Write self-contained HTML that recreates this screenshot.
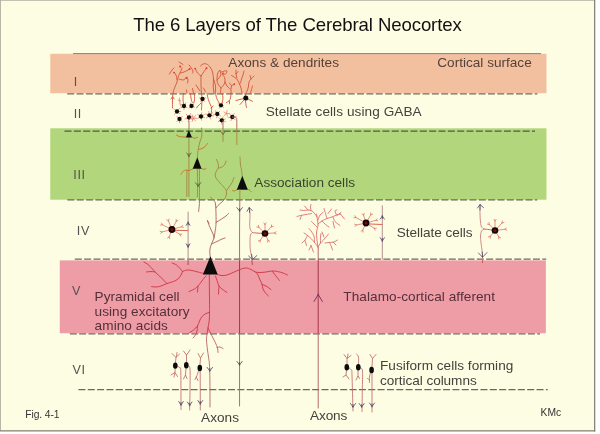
<!DOCTYPE html>
<html>
<head>
<meta charset="utf-8">
<title>The 6 Layers of The Cerebral Neocortex</title>
<style>
html,body{margin:0;padding:0;background:#ffffff;}
body{width:600px;height:434px;overflow:hidden;font-family:"Liberation Sans",sans-serif;}
svg{display:block;}
text{font-family:"Liberation Sans",sans-serif;}
.t13{font-size:13.6px;fill:#45423d;}
.rn{font-size:12.6px;fill:#55534f;letter-spacing:0.6px;}
.sm{font-size:10.3px;fill:#333333;}
.dash{stroke:#686a5d;stroke-width:1.3;stroke-dasharray:7 2.35;fill:none;}
svg{--ax:#b06462;--ax2:#b88e8e;--ax3:#cc8080;--dn:#d8503f;--pk:#e8776c;--th:#d9686a;--dv:#b8585a;--fu:#c06a6a;--ar:#4b4266;--ar2:#6a2f5e;}
.onpeach{--ax:#b0503c;--dn:#d2533a;--pk:#dc6a50;--ar:#6a4a7c;}
.ongreen{--ax:#a48a44;--ax2:#a48a44;--dn:#c8702c;--pk:#c8702c;--ar:#56603e;--th:#a48a44;}
.onpink{--ax3:#b83a4a;--ax:#a23346;--ax2:#a84a5a;--dn:#cf2f40;--dv:#cf2f40;--ar:#6a2f5e;--th:#c03045;}
.ax{stroke:var(--ax,#b06462);stroke-width:0.95;fill:none;stroke-linecap:round;stroke-linejoin:round;}
.ax2{stroke:var(--ax2,#b88e8e);stroke-width:1;fill:none;stroke-linecap:round;}
.ry{stroke:#e0776c;stroke-width:0.8;fill:none;stroke-linecap:round;}
.ax3{stroke:var(--ax3,#cc8080);stroke-width:0.9;fill:none;stroke-linecap:round;stroke-linejoin:round;}
.dn{stroke:var(--dn,#d8503f);stroke-width:0.9;fill:none;stroke-linecap:round;stroke-linejoin:round;}
.pk{stroke:var(--pk,#e8776c);stroke-width:0.75;fill:none;stroke-linecap:round;}
.th{stroke:var(--th,#d9686a);stroke-width:0.85;fill:none;stroke-linecap:round;stroke-linejoin:round;}
.dv{stroke:var(--dv,#b8585a);stroke-width:0.85;fill:none;stroke-linecap:round;stroke-linejoin:round;}
.fu{stroke:var(--fu,#c06a6a);stroke-width:0.85;fill:none;stroke-linecap:round;stroke-linejoin:round;}
.ar{stroke:var(--ar,#4b4266);stroke-width:0.8;fill:none;stroke-linecap:round;stroke-linejoin:round;}
.ar2{stroke:var(--ar2,#6a2f5e);stroke-width:0.9;fill:none;stroke-linecap:round;stroke-linejoin:round;}
.blk{fill:#0c0c0c;stroke:none;}
</style>
</head>
<body>
<svg width="600" height="434" viewBox="0 0 600 434">
<!-- page + frame -->
<rect x="0" y="0" width="600" height="434" fill="#ffffff"/>
<rect x="0" y="0" width="595" height="431" fill="#fdfde4"/>
<rect x="0" y="0" width="595" height="0.8" fill="#b4b4a6"/>
<rect x="0" y="0" width="0.9" height="431" fill="#b0b0a2"/>
<rect x="594" y="0" width="1.3" height="431.5" fill="#84847a"/>
<rect x="0" y="430.2" width="595.3" height="1.3" fill="#84847a"/>

<defs>
<clipPath id="cO"><rect x="50.4" y="53.8" width="496" height="39.4"/></clipPath>
<clipPath id="cG"><rect x="50.4" y="128.4" width="496" height="71.2"/></clipPath>
<clipPath id="cP"><rect x="59.8" y="260.5" width="485.9" height="72.7"/></clipPath>
<g id="neurons">
<!-- ===== layer I dendritic tufts ===== -->
<path class="dn" d="M172.5 108 C172.50 106.67 172.42 102.50 172.5 100 C172.58 97.50 172.67 95.00 173 93 C173.33 91.00 173.83 89.83 174.5 88 C175.17 86.17 176.33 84.00 177 82 C177.67 80.00 178.00 77.50 178.5 76 C179.00 74.50 179.42 74.33 180 73 C180.58 71.67 181.67 68.83 182 68"/>
<path class="dn" d="M177 80 C176.83 79.17 176.50 76.28 176 75 C175.50 73.72 174.33 72.75 174 72.3"/>
<path class="dn" d="M169.5 74 C169.92 73.33 171.25 71.00 172 70 C172.75 69.00 173.67 68.33 174 68"/>
<path class="dn" d="M180 73 C180.67 72.83 182.67 72.50 184 72 C185.33 71.50 187.05 70.53 188 70 C188.95 69.47 189.42 69.00 189.7 68.8"/>
<path class="dn" d="M179 79 C179.67 79.17 181.83 80.13 183 80 C184.17 79.87 185.50 78.50 186 78.2"/>
<path class="dn" d="M187 77 C187.17 77.50 187.92 79.00 188 80 C188.08 81.00 187.58 82.50 187.5 83"/>
<path class="dn" d="M179 62 L183 64.5"/>
<path class="dn" d="M189 65 C189.33 65.42 190.33 66.50 191 67.5 C191.67 68.50 192.75 70.08 193 71 C193.25 71.92 192.58 72.67 192.5 73"/>
<circle cx="180.2" cy="66.6" r="1.1" fill="#e8412f"/>
<circle cx="189.6" cy="69" r="1.0" fill="#d9402f"/>
<circle cx="186.3" cy="78" r="0.9" fill="#d9402f"/>
<circle cx="174" cy="72.6" r="0.9" fill="#d9402f"/>
<path class="dn" d="M202 99 C201.92 98.00 201.67 95.33 201.5 93 C201.33 90.67 201.08 87.83 201 85 C200.92 82.17 201.00 77.50 201 76"/>
<path class="dn" d="M201 76 C200.42 75.50 198.33 74.00 197.5 73 C196.67 72.00 196.42 70.78 196 70 C195.58 69.22 195.17 68.58 195 68.3"/>
<path class="dn" d="M201 76 C201.33 75.50 202.25 74.08 203 73 C203.75 71.92 204.92 70.33 205.5 69.5 C206.08 68.67 206.33 68.25 206.5 68"/>
<circle cx="206.5" cy="68.3" r="1.0" fill="#d9402f"/>
<circle cx="195.2" cy="68.6" r="0.9" fill="#d9402f"/>
<path class="dn" d="M200.5 66 C200.92 65.67 202.00 64.33 203 64 C204.00 63.67 205.33 63.50 206.5 64 C207.67 64.50 209.00 65.67 210 67 C211.00 68.33 211.92 70.00 212.5 72 C213.08 74.00 213.38 76.67 213.5 79 C213.62 81.33 213.12 83.67 213.2 86 C213.28 88.33 213.87 91.83 214 93"/>
<path class="dn" d="M213.5 79 C213.83 80.17 215.22 83.67 215.5 86 C215.78 88.33 215.25 91.83 215.2 93"/>
<path class="dn" d="M196 85 L200 91"/>
<path class="dn" d="M203.5 88 L205.5 92"/>
<path class="dn" d="M192.5 88.5 L193.5 93"/>
<path class="dn" d="M186.5 90 L187 93"/>
<path class="dn" d="M220.5 93 C220.58 92.17 220.58 89.17 221 88 C221.42 86.83 222.33 87.00 223 86 C223.67 85.00 224.75 83.42 225 82 C225.25 80.58 224.92 78.75 224.5 77.5 C224.08 76.25 222.33 75.08 222.5 74.5 C222.67 73.92 224.75 74.58 225.5 74 C226.25 73.42 227.17 71.50 227 71 C226.83 70.50 225.33 70.83 224.5 71 C223.67 71.17 222.83 72.08 222 72 C221.17 71.92 220.25 70.17 219.5 70.5 C218.75 70.83 217.92 72.42 217.5 74 C217.08 75.58 216.92 78.33 217 80 C217.08 81.67 217.33 82.67 218 84 C218.67 85.33 220.50 87.33 221 88"/>
<path class="dn" d="M219.5 70.5 C219.75 71.08 221.08 72.75 221 74 C220.92 75.25 219.67 77.00 219 78 C218.33 79.00 217.33 79.67 217 80"/>
<circle cx="223" cy="73.3" r="0.9" fill="#d9402f"/>
<path class="dn" d="M225 82 C225.33 82.67 226.25 84.92 227 86 C227.75 87.08 228.83 87.83 229.5 88.5 C230.17 89.17 230.75 89.17 231 90 C231.25 90.83 231.00 92.92 231 93.5"/>
<path class="dn" d="M229.5 83 C229.83 83.42 230.70 85.30 231.5 85.5 C232.30 85.70 233.83 84.42 234.3 84.2"/>
<path class="dn" d="M231.5 85.5 L231 89"/>
<circle cx="234.3" cy="84.2" r="0.9" fill="#d9402f"/>
<path class="dn" d="M231.5 75.5 C232.08 75.83 234.00 76.75 235 77.5 C236.00 78.25 236.75 78.92 237.5 80 C238.25 81.08 238.92 82.67 239.5 84 C240.08 85.33 240.58 86.50 241 88 C241.42 89.50 241.83 92.17 242 93"/>
<path class="dn" d="M236 70 C236.00 70.67 235.83 72.67 236 74 C236.17 75.33 236.83 77.33 237 78"/>
<path class="dn" d="M236 74 L238 71.5"/>
<path class="dn" d="M244 71 C243.83 71.67 243.42 73.67 243 75 C242.58 76.33 241.92 77.67 241.5 79 C241.08 80.33 240.83 82.17 240.5 83 C240.17 83.83 239.67 83.83 239.5 84"/>
<path class="dn" d="M254 76 C253.50 76.50 251.83 78.00 251 79 C250.17 80.00 249.42 80.83 249 82 C248.58 83.17 248.75 84.67 248.5 86 C248.25 87.33 248.00 88.67 247.5 90 C247.00 91.33 245.83 93.33 245.5 94"/>
<path class="dn" d="M250 75.5 L251 79"/>
<path class="dn" d="M252.5 86 C252.25 86.83 251.33 89.75 251 91 C250.67 92.25 250.58 93.08 250.5 93.5"/>
<!-- ===== layer II small stellate cells ===== -->
<path class="dn" d="M171 99 L172.6 96.6 L174.2 99"/>
<path class="dn" d="M183.5 93.5 C183.42 94.25 183.00 96.25 183 98 C183.00 99.75 183.42 103.00 183.5 104"/>
<path class="dn" d="M190.5 93.5 C190.58 94.25 190.75 96.58 191 98 C191.25 99.42 191.58 101.17 192 102 C192.42 102.83 193.08 103.33 193.5 103 C193.92 102.67 194.33 101.58 194.5 100 C194.67 98.42 194.50 94.58 194.5 93.5"/>
<path class="dn" d="M202 101 C201.95 101.67 201.78 103.50 201.7 105 C201.62 106.50 201.53 109.17 201.5 110"/>
<path class="dn" d="M201 103 C200.50 103.50 198.75 105.17 198 106 C197.25 106.83 196.75 107.67 196.5 108"/>
<path class="dn" d="M207 93.5 C207.22 94.50 207.72 97.58 208.3 99.5 C208.88 101.42 209.97 103.58 210.5 105 C211.03 106.42 211.33 106.67 211.5 108 C211.67 109.33 211.50 112.17 211.5 113"/>
<path class="dn" d="M213 106 L211.2 108"/>
<path class="dn" d="M215.5 93.5 C215.75 94.42 216.25 97.25 217 99 C217.75 100.75 219.50 103.17 220 104"/>
<path class="dn" d="M222 93.5 C222.17 94.25 223.00 96.42 223 98 C223.00 99.58 222.17 102.17 222 103"/>
<path class="dn" d="M231 93.5 C230.92 94.25 230.83 96.75 230.5 98 C230.17 99.25 229.67 100.25 229 101 C228.33 101.75 226.92 102.25 226.5 102.5"/>
<path class="dn" d="M229.5 101 L229.5 103.8"/>
<path class="pk" d="M178 100 L181 101"/>
<path class="pk" d="M179.5 98 C179.58 99.00 179.67 102.50 180 104 C180.33 105.50 181.25 106.50 181.5 107"/>
<path class="dn" d="M245.8 98 L245 93.5"/>
<path class="dn" d="M245.8 98 L236 100.5"/>
<path class="dn" d="M245.8 98 L240 104.5"/>
<path class="dn" d="M245.8 98 L252.5 101.3"/>
<path class="dn" d="M245.8 98 C245.77 98.67 245.48 100.42 245.6 102 C245.72 103.58 246.35 106.58 246.5 107.5"/>
<circle class="blk" cx="245.8" cy="98" r="2.5"/>
<path class="pk" d="M202.5 99 L199.493 97.9055"/>
<path class="pk" d="M202.5 99 L205.507 97.9055"/>
<path class="pk" d="M202.5 99 L200.443 101.451"/>
<path class="pk" d="M202.5 99 L204.557 101.451"/>
<circle class="blk" cx="202.5" cy="99" r="2.15"/>
<path class="pk" d="M184 106 L187.118 107.8"/>
<path class="pk" d="M184 106 L180.882 107.8"/>
<path class="pk" d="M184 106 L180.882 104.2"/>
<path class="pk" d="M184 106 L185.8 102.882"/>
<path class="pk" d="M184 106 L184 109.6"/>
<circle class="blk" cx="184" cy="106" r="2.15"/>
<path class="pk" d="M191.5 106 L194.507 107.094"/>
<path class="pk" d="M191.5 106 L189.049 108.057"/>
<path class="pk" d="M191.5 106 L190.406 102.993"/>
<path class="pk" d="M191.5 106 L193.951 103.943"/>
<circle class="blk" cx="191.5" cy="106" r="2.15"/>
<path class="pk" d="M177 111.5 L179.911 113.943"/>
<path class="pk" d="M177 111.5 L174.557 114.411"/>
<path class="pk" d="M177 111.5 L174.089 109.057"/>
<path class="pk" d="M177 111.5 L179.443 108.589"/>
<path class="pk" d="M177 111.5 L180.8 111.5"/>
<circle class="blk" cx="177" cy="111.5" r="2.15"/>
<path class="pk" d="M179.5 119 L182.187 121.687"/>
<path class="pk" d="M179.5 119 L176.813 121.687"/>
<path class="pk" d="M179.5 119 L176.813 116.313"/>
<path class="pk" d="M179.5 119 L182.187 116.313"/>
<path class="pk" d="M179.5 119 L179.5 122.8"/>
<circle class="blk" cx="179.5" cy="119" r="2.15"/>
<path class="pk" d="M189 117.5 L192.637 119.6"/>
<path class="pk" d="M189 117.5 L188.271 121.636"/>
<path class="pk" d="M189 117.5 L185.053 118.936"/>
<path class="pk" d="M189 117.5 L186.3 114.283"/>
<path class="pk" d="M189 117.5 L190.436 113.553"/>
<path class="pk" d="M189 117.5 L192.947 116.064"/>
<circle class="blk" cx="189" cy="117.5" r="2.15"/>
<path class="pk" d="M193.3 118.3 L196.7 118.3"/>
<path class="pk" d="M193.3 118.3 L195.485 120.905"/>
<path class="pk" d="M193.3 118.3 L192.137 121.495"/>
<path class="pk" d="M193.3 118.3 L189.9 118.3"/>
<path class="pk" d="M193.3 118.3 L192.137 115.105"/>
<path class="pk" d="M193.3 118.3 L195.485 115.695"/>
<circle class="blk" cx="193.3" cy="118.3" r="0"/>
<path class="pk" d="M201 116.5 L204.571 117.8"/>
<path class="pk" d="M201 116.5 L201.66 120.242"/>
<path class="pk" d="M201 116.5 L197.709 118.4"/>
<path class="pk" d="M201 116.5 L197.709 114.6"/>
<path class="pk" d="M201 116.5 L201.66 112.758"/>
<path class="pk" d="M201 116.5 L204.291 114.6"/>
<circle class="blk" cx="201" cy="116.5" r="2.15"/>
<path class="pk" d="M209.5 115.3 L213.439 115.995"/>
<path class="pk" d="M209.5 115.3 L210.868 119.059"/>
<path class="pk" d="M209.5 115.3 L206.436 117.871"/>
<path class="pk" d="M209.5 115.3 L205.741 113.932"/>
<path class="pk" d="M209.5 115.3 L208.805 111.361"/>
<path class="pk" d="M209.5 115.3 L212.564 112.729"/>
<circle class="blk" cx="209.5" cy="115.3" r="2.15"/>
<path class="pk" d="M221 105.3 L223.605 107.485"/>
<path class="pk" d="M221 105.3 L219.3 108.244"/>
<path class="pk" d="M221 105.3 L218.056 103.6"/>
<path class="pk" d="M221 105.3 L222.7 102.356"/>
<circle class="blk" cx="221" cy="105.3" r="2.15"/>
<path class="pk" d="M217.3 114 L220.591 115.9"/>
<path class="pk" d="M217.3 114 L216.64 117.742"/>
<path class="pk" d="M217.3 114 L213.558 114.66"/>
<path class="pk" d="M217.3 114 L215.4 110.709"/>
<path class="pk" d="M217.3 114 L219.743 111.089"/>
<circle class="blk" cx="217.3" cy="114" r="2.15"/>
<path class="pk" d="M221.8 120.3 L225.371 121.6"/>
<path class="pk" d="M221.8 120.3 L221.8 124.1"/>
<path class="pk" d="M221.8 120.3 L218.229 121.6"/>
<path class="pk" d="M221.8 120.3 L218.889 117.857"/>
<path class="pk" d="M221.8 120.3 L223.1 116.729"/>
<path class="pk" d="M221.8 120.3 L225.371 119"/>
<circle class="blk" cx="221.8" cy="120.3" r="2.15"/>
<path class="pk" d="M232.3 117 L235.128 119.828"/>
<path class="pk" d="M232.3 117 L230.932 120.759"/>
<path class="pk" d="M232.3 117 L228.361 117.695"/>
<path class="pk" d="M232.3 117 L229.729 113.936"/>
<path class="pk" d="M232.3 117 L234.3 113.536"/>
<path class="pk" d="M232.3 117 L236.239 116.305"/>
<circle class="blk" cx="232.3" cy="117" r="2.15"/>
<path class="pk" d="M226.5 113.5 L229.5 113.5"/>
<path class="pk" d="M226.5 113.5 L227.526 116.319"/>
<path class="pk" d="M226.5 113.5 L224.202 115.428"/>
<path class="pk" d="M226.5 113.5 L223.902 112"/>
<path class="pk" d="M226.5 113.5 L227.021 110.546"/>
<circle class="blk" cx="226.5" cy="113.5" r="0"/>
<path class="ax" d="M232.3 117 C232.75 117.08 234.28 117.25 235 117.5 C235.72 117.75 236.30 117.08 236.6 118.5 C236.90 119.92 236.77 121.67 236.8 126 C236.83 130.33 236.80 141.42 236.8 144.5"/>
<path class="ax" d="M223 120.5 L223 141.3"/>
<path class="ar" d="M221.3 132 L223 134.5 L224.7 132"/>
<path class="ax" d="M189 121 L189 130.3"/>
<!-- ===== layer III pyramidal (association) cells ===== -->
<path class="dn" d="M176.5 135 C177.08 135.28 178.42 136.37 180 136.7 C181.58 137.03 185.00 136.95 186 137"/>
<path class="dn" d="M192 137 C192.42 137.22 193.58 138.27 194.5 138.3 C195.42 138.33 197.00 137.38 197.5 137.2"/>
<path class="ax" d="M188.9 137 L188.9 196.5"/>
<path class="ar" d="M186.8 153 L188.9 156.3 L191 153 M188.9 156.8 L188.9 153.8"/>
<path class="blk" d="M188.8 130 L192 137.4 L185.9 137.4 Z"/>
<path class="ax" d="M186.9 170.5 L186.8 196.3"/>
<path class="ax" d="M201.5 128 C201.55 129.33 202.05 133.75 201.8 136 C201.55 138.25 200.55 139.50 200 141.5 C199.45 143.50 198.87 146.08 198.5 148 C198.13 149.92 198.00 151.42 197.8 153 C197.60 154.58 197.38 156.75 197.3 157.5"/>
<path class="dn" d="M198.8 149.5 C199.50 149.25 201.80 148.67 203 148 C204.20 147.33 205.25 146.25 206 145.5 C206.75 144.75 207.25 143.83 207.5 143.5"/>
<path class="dn" d="M193 168.7 C192.33 169.00 190.25 170.28 189 170.5 C187.75 170.72 186.67 169.67 185.5 170 C184.33 170.33 182.75 171.78 182 172.5 C181.25 173.22 181.17 174.00 181 174.3"/>
<path class="dn" d="M201.3 168.5 C201.75 168.63 203.22 169.30 204 169.3 C204.78 169.30 205.67 168.63 206 168.5"/>
<path class="ax" d="M197.3 169 C197.35 171.67 197.58 180.37 197.6 185 C197.62 189.63 197.43 194.83 197.4 196.8"/>
<path class="ax" d="M199.4 169 C199.42 171.83 199.48 181.17 199.5 186 C199.52 190.83 199.53 194.83 199.5 198 C199.47 201.17 199.45 202.75 199.3 205 C199.15 207.25 198.72 210.42 198.6 211.5"/>
<path class="ar" d="M195.3 182.6 L198.1 186.2 L200.9 182.6 M198.1 186.7 L198.1 183.7"/>
<path class="blk" d="M197.3 157.3 L201.5 168.8 L192.7 168.8 Z"/>
<path class="ax" d="M216.5 159.5 C216.75 160.08 217.67 161.75 218 163 C218.33 164.25 218.67 165.83 218.5 167 C218.33 168.17 217.53 168.83 217 170 C216.47 171.17 215.47 172.67 215.3 174 C215.13 175.33 215.22 176.50 216 178 C216.78 179.50 218.50 181.25 220 183 C221.50 184.75 223.92 187.00 225 188.5 C226.08 190.00 226.33 190.75 226.5 192 C226.67 193.25 226.42 194.67 226 196 C225.58 197.33 224.58 199.08 224 200 C223.42 200.92 223.50 200.58 222.5 201.5 C221.50 202.42 219.08 204.42 218 205.5 C216.92 206.58 216.33 207.58 216 208"/>
<path class="ax" d="M226 161 C225.75 161.67 225.33 163.92 224.5 165 C223.67 166.08 222.00 167.00 221 167.5 C220.00 168.00 218.92 167.92 218.5 168"/>
<path class="ax" d="M234 177.5 C233.67 178.33 232.83 180.92 232 182.5 C231.17 184.08 229.92 185.67 229 187 C228.08 188.33 226.92 189.92 226.5 190.5"/>
<path class="ax" d="M240 157 C240.08 158.33 240.25 162.83 240.5 165 C240.75 167.17 241.20 168.17 241.5 170 C241.80 171.83 242.17 175.00 242.3 176"/>
<path class="dn" d="M237 189.5 C236.58 189.75 235.25 190.83 234.5 191 C233.75 191.17 232.83 190.58 232.5 190.5"/>
<path class="dn" d="M247.7 189 C248.08 189.25 249.42 190.05 250 190.5 C250.58 190.95 251.00 191.50 251.2 191.7"/>
<path class="blk" d="M242.3 175.8 L247.8 189.7 L236.8 189.7 Z"/>
<path class="ax" d="M239.9 189.5 L239.55 230 L239.55 406"/>
<path class="ar" d="M236.8 207.6 L239.6 211 L242.4 207.6 M239.6 211.5 L239.6 208.5"/>
<path class="ar" d="M236.95 361.4 L239.55 365 L242.15 361.4 M239.55 365.5 L239.55 362.5"/>
<!-- ===== layer IV ===== -->
<path class="ax" d="M210.3 257.5 C210.22 256.25 209.60 252.25 209.8 250 C210.00 247.75 210.80 246.00 211.5 244 C212.20 242.00 213.42 240.00 214 238 C214.58 236.00 214.67 234.25 215 232 C215.33 229.75 215.83 227.50 216 224.5 C216.17 221.50 216.08 217.42 216 214 C215.92 210.58 215.83 206.25 215.5 204 C215.17 201.75 214.83 201.67 214 200.5 C213.17 199.33 211.08 197.58 210.5 197"/>
<path class="ax" d="M207.5 221 C207.92 222.08 209.08 225.33 210 227.5 C210.92 229.67 212.33 232.25 213 234 C213.67 235.75 213.83 237.33 214 238"/>
<path class="ax" d="M211.5 244 C212.42 243.58 215.25 242.33 217 241.5 C218.75 240.67 220.67 239.58 222 239 C223.33 238.42 224.50 238.17 225 238"/>
<path class="ax" d="M216 222.5 C216.92 221.92 219.83 220.08 221.5 219 C223.17 217.92 224.83 216.92 226 216 C227.17 215.08 228.08 213.92 228.5 213.5"/>
<path class="ax" d="M207.5 220.5 L209 223.5"/>
<path class="ry" d="M171.9 229.5 L162.5 224.8"/>
<path class="ry" d="M162.5 224.8 L161.529 223.052"/>
<path class="ry" d="M162.5 224.8 L160.519 225.072"/>
<path class="ry" d="M171.9 229.5 L168.5 221"/>
<path class="ry" d="M168.5 221 L168.935 219.048"/>
<path class="ry" d="M168.5 221 L166.838 219.887"/>
<path class="ry" d="M171.9 229.5 L176.3 221.3"/>
<path class="ry" d="M176.3 221.3 L178.076 220.379"/>
<path class="ry" d="M176.3 221.3 L176.085 219.312"/>
<path class="ry" d="M171.9 229.5 L181.5 226.8"/>
<path class="ry" d="M181.5 226.8 L183.395 227.44"/>
<path class="ry" d="M181.5 226.8 L182.783 225.266"/>
<path class="ry" d="M171.9 229.5 L179.8 234.3"/>
<path class="ry" d="M179.8 234.3 L180.624 236.122"/>
<path class="ry" d="M179.8 234.3 L181.797 234.192"/>
<path class="ry" d="M171.9 229.5 L169.2 236.8"/>
<path class="ry" d="M169.2 236.8 L167.568 237.956"/>
<path class="ry" d="M169.2 236.8 L169.687 238.74"/>
<path class="ry" d="M171.9 229.5 L162 232"/>
<path class="ry" d="M162 232 L160.123 231.309"/>
<path class="ry" d="M162 232 L160.676 233.499"/>
<path class="dn" d="M171.9 230.2 L188.1 230.6"/>
<path class="ax2" d="M188.1 212 L188.1 264.6"/>
<path class="ar" d="M186.2 225.3 L188.1 222.3 L190 225.3 M188.1 221.8 L188.1 224.8"/>
<path class="ar" d="M186.2 243.8 L188.1 247 L190 243.8 M188.1 247.5 L188.1 244.5"/>
<circle cx="171.9" cy="229.5" r="3.4" fill="#160606"/><circle cx="171.9" cy="229.5" r="1.6" fill="#6a0e0e"/>
<path class="ry" d="M265 233.5 L265 224.5"/>
<path class="ry" d="M265 224.5 L266.129 222.849"/>
<path class="ry" d="M265 224.5 L263.871 222.849"/>
<path class="ry" d="M265 233.5 L271.3 226.8"/>
<path class="ry" d="M271.3 226.8 L273.253 226.371"/>
<path class="ry" d="M271.3 226.8 L271.608 224.824"/>
<path class="ry" d="M265 233.5 L274.5 233"/>
<path class="ry" d="M274.5 233 L276.208 234.041"/>
<path class="ry" d="M274.5 233 L276.089 231.786"/>
<path class="ry" d="M265 233.5 L268 240.3"/>
<path class="ry" d="M268 240.3 L267.633 242.266"/>
<path class="ry" d="M268 240.3 L269.699 241.354"/>
<path class="ry" d="M265 233.5 L260.2 240.3"/>
<path class="ry" d="M260.2 240.3 L258.325 240.997"/>
<path class="ry" d="M260.2 240.3 L260.171 242.3"/>
<path class="ry" d="M265 233.5 L258.8 227.3"/>
<path class="ry" d="M258.8 227.3 L258.431 225.334"/>
<path class="ry" d="M258.8 227.3 L256.834 226.931"/>
<path class="dn" d="M265 233.5 C263.50 233.42 258.08 233.17 256 233 C253.92 232.83 253.08 232.58 252.5 232.5"/>
<path class="ax3" d="M252.5 232.5 C252.17 232.08 250.97 231.25 250.5 230 C250.03 228.75 249.78 227.50 249.7 225 C249.62 222.50 250.05 217.83 250 215 C249.95 212.17 249.50 209.17 249.4 208"/>
<path class="ax3" d="M252.5 232.5 C252.17 232.92 250.92 233.42 250.5 235 C250.08 236.58 250.03 239.50 250 242 C249.97 244.50 250.05 247.67 250.3 250 C250.55 252.33 251.17 253.58 251.5 256 C251.83 258.42 252.17 263.08 252.3 264.5"/>
<path class="ar" d="M247 211.3 L249.3 207.6 L252.3 210.6 M249.3 207.6 L249.6 212.5"/>
<path class="ar" d="M248.6 256 L252.4 259.6 L256.8 255.6 M252.4 259.6 L251.6 254.5"/>
<circle cx="265" cy="233.5" r="3.3" fill="#160606"/><circle cx="265" cy="233.5" r="1.6" fill="#6a0e0e"/>
<path class="ry" d="M366 223 L355.8 217.5"/>
<path class="ry" d="M355.8 217.5 L354.883 215.723"/>
<path class="ry" d="M355.8 217.5 L353.811 217.711"/>
<path class="ry" d="M366 223 L363.6 215.2"/>
<path class="ry" d="M363.6 215.2 L364.194 213.29"/>
<path class="ry" d="M363.6 215.2 L362.035 213.954"/>
<path class="ry" d="M366 223 L370.8 214.8"/>
<path class="ry" d="M370.8 214.8 L372.608 213.946"/>
<path class="ry" d="M370.8 214.8 L370.659 212.805"/>
<path class="ry" d="M366 223 L376 220.3"/>
<path class="ry" d="M376 220.3 L377.888 220.96"/>
<path class="ry" d="M376 220.3 L377.299 218.779"/>
<path class="ry" d="M366 223 L374.3 228.3"/>
<path class="ry" d="M374.3 228.3 L375.083 230.14"/>
<path class="ry" d="M374.3 228.3 L376.299 228.237"/>
<path class="ry" d="M366 223 L362.8 230.2"/>
<path class="ry" d="M362.8 230.2 L361.098 231.25"/>
<path class="ry" d="M362.8 230.2 L363.162 232.167"/>
<path class="ry" d="M366 223 L356.5 225"/>
<path class="ry" d="M356.5 225 L354.652 224.235"/>
<path class="ry" d="M356.5 225 L355.117 226.445"/>
<path class="dn" d="M366 223.8 L382.3 224.5"/>
<path class="ax2" d="M382.3 205.7 L382.3 259.2"/>
<path class="ar" d="M380.2 219.1 L382.3 216 L384.4 219.1 M382.3 215.5 L382.3 218.5"/>
<path class="ar" d="M380.2 237.7 L382.3 241 L384.4 237.7 M382.3 241.5 L382.3 238.5"/>
<circle cx="366" cy="223" r="3.4" fill="#160606"/><circle cx="366" cy="223" r="1.6" fill="#6a0e0e"/>
<path class="ry" d="M495 230.5 L495 221"/>
<path class="ry" d="M495 221 L496.129 219.349"/>
<path class="ry" d="M495 221 L493.871 219.349"/>
<path class="ry" d="M495 230.5 L502 223"/>
<path class="ry" d="M502 223 L503.952 222.564"/>
<path class="ry" d="M502 223 L502.301 221.023"/>
<path class="ry" d="M495 230.5 L505 229.3"/>
<path class="ry" d="M505 229.3 L506.773 230.225"/>
<path class="ry" d="M505 229.3 L506.504 227.982"/>
<path class="ry" d="M495 230.5 L498.8 237"/>
<path class="ry" d="M498.8 237 L498.658 238.995"/>
<path class="ry" d="M498.8 237 L500.608 237.855"/>
<path class="ry" d="M495 230.5 L490.3 236.3"/>
<path class="ry" d="M490.3 236.3 L488.383 236.871"/>
<path class="ry" d="M490.3 236.3 L490.138 238.293"/>
<path class="ry" d="M495 230.5 L489.3 224.5"/>
<path class="ry" d="M489.3 224.5 L488.982 222.525"/>
<path class="ry" d="M489.3 224.5 L487.344 224.081"/>
<path class="dn" d="M495 230.5 C494.00 230.35 490.83 229.85 489 229.6 C487.17 229.35 484.83 229.10 484 229"/>
<path class="ax3" d="M484 229 C483.58 228.67 482.08 228.17 481.5 227 C480.92 225.83 480.75 224.17 480.5 222 C480.25 219.83 480.08 216.83 480 214 C479.92 211.17 480.00 206.50 480 205"/>
<path class="ax3" d="M484 229 C483.58 229.33 482.08 229.83 481.5 231 C480.92 232.17 480.58 234.00 480.5 236 C480.42 238.00 480.75 240.67 481 243 C481.25 245.33 481.75 247.83 482 250 C482.25 252.17 482.42 253.92 482.5 256 C482.58 258.08 482.50 261.42 482.5 262.5"/>
<path class="ar" d="M477.5 208 L480 204.5 L483.5 207.6 M480 204.5 L480 210"/>
<path class="ar" d="M478.5 253 L482.5 257.2 L487 252.6 M482.5 257.2 L482.3 252"/>
<circle cx="495" cy="230.5" r="3.3" fill="#160606"/><circle cx="495" cy="230.5" r="1.6" fill="#6a0e0e"/>
<!-- ===== thalamo-cortical afferent ===== -->
<path class="ax" d="M318.2 408 L318.2 247"/>
<path class="ar2" d="M314 301.5 L318.2 294.5 L322.4 301.5 M318.2 294 L318.2 294.5"/>
<path class="th" d="M318 247 C317.42 246.25 315.67 243.92 314.5 242.5 C313.33 241.08 312.17 239.67 311 238.5 C309.83 237.33 308.67 236.42 307.5 235.5 C306.33 234.58 304.58 233.42 304 233"/>
<path class="th" d="M311 245.5 L313.5 252"/>
<path class="th" d="M309 250 L311 245.5"/>
<path class="th" d="M307.5 235.5 C307.08 236.25 305.92 238.75 305 240 C304.08 241.25 302.50 242.50 302 243"/>
<path class="th" d="M305 240.5 L306.5 245.5"/>
<path class="th" d="M314.5 242.5 C314.42 241.42 314.58 237.92 314 236 C313.42 234.08 311.83 232.25 311 231 C310.17 229.75 309.33 228.92 309 228.5"/>
<path class="th" d="M318 247 C318.42 246.33 319.58 244.17 320.5 243 C321.42 241.83 322.50 241.08 323.5 240 C324.50 238.92 325.67 237.50 326.5 236.5 C327.33 235.50 328.17 234.42 328.5 234"/>
<path class="th" d="M320.5 243 C320.50 242.00 320.42 238.58 320.5 237 C320.58 235.42 320.92 234.08 321 233.5"/>
<path class="th" d="M322 232 L324 237"/>
<path class="th" d="M325 243 C325.75 242.92 328.00 242.67 329.5 242.5 C331.00 242.33 332.67 242.42 334 242 C335.33 241.58 336.92 240.33 337.5 240"/>
<path class="th" d="M329.5 242.5 C329.83 243.25 331.00 245.75 331.5 247 C332.00 248.25 332.33 249.50 332.5 250"/>
<path class="th" d="M333 242 L336 245"/>
<path class="th" d="M318 247 C317.83 245.83 317.25 242.50 317 240 C316.75 237.50 316.33 234.33 316.5 232 C316.67 229.67 317.83 228.00 318 226 C318.17 224.00 317.75 222.00 317.5 220 C317.25 218.00 316.67 215.00 316.5 214"/>
<path class="th" d="M317 217 C316.58 216.42 315.33 214.50 314.5 213.5 C313.67 212.50 313.08 211.58 312 211 C310.92 210.42 309.42 210.08 308 210 C306.58 209.92 304.83 210.50 303.5 210.5 C302.17 210.50 300.58 210.08 300 210"/>
<path class="th" d="M311 210.5 C310.92 209.92 310.50 208.00 310.5 207 C310.50 206.00 310.92 204.92 311 204.5"/>
<path class="th" d="M308 210 L304.5 206"/>
<path class="th" d="M311.5 213.5 C310.58 213.67 307.83 214.17 306 214.5 C304.17 214.83 302.00 215.17 300.5 215.5 C299.00 215.83 297.58 216.33 297 216.5"/>
<path class="th" d="M301.5 215.5 L300 219.5"/>
<path class="th" d="M317 227 C316.50 226.50 314.92 224.92 314 224 C313.08 223.08 311.92 221.92 311.5 221.5"/>
<path class="th" d="M318 224 C318.67 223.50 320.50 221.92 322 221 C323.50 220.08 325.33 219.17 327 218.5 C328.67 217.83 330.42 217.58 332 217 C333.58 216.42 335.08 215.50 336.5 215 C337.92 214.50 339.83 214.17 340.5 214"/>
<path class="th" d="M327 218.5 C326.75 217.67 326.00 215.17 325.5 213.5 C325.00 211.83 324.25 209.33 324 208.5"/>
<path class="th" d="M328 213.5 L331.5 209"/>
<path class="th" d="M322 221 C322.58 221.58 324.33 223.50 325.5 224.5 C326.67 225.50 328.42 226.58 329 227"/>
<path class="th" d="M333 217 C333.33 217.75 333.83 220.08 335 221.5 C336.17 222.92 339.17 224.83 340 225.5"/>
<path class="th" d="M333 221.5 L334.5 228"/>
<path class="th" d="M336.5 215 C336.25 214.33 334.92 211.83 335 211 C335.08 210.17 336.67 210.17 337 210"/>
<path class="th" d="M340.5 214 L344.5 219"/>
<path class="th" d="M337 215.5 L341 212.5"/>
<path class="th" d="M318 220 C318.33 219.17 319.17 216.25 320 215 C320.83 213.75 322.50 212.92 323 212.5"/>
<!-- ===== layer V big pyramidal cell ===== -->
<path class="dv" d="M203.5 273.5 C202.58 273.25 199.92 272.50 198 272 C196.08 271.50 193.83 270.83 192 270.5 C190.17 270.17 188.58 269.83 187 270 C185.42 270.17 183.25 271.25 182.5 271.5"/>
<path class="dv" d="M182.5 271.5 C182.08 271.00 181.00 269.58 180 268.5 C179.00 267.42 177.83 265.92 176.5 265 C175.17 264.08 172.75 263.33 172 263"/>
<path class="dv" d="M182.5 271.5 C182.25 272.08 181.75 273.75 181 275 C180.25 276.25 179.25 277.92 178 279 C176.75 280.08 175.33 280.75 173.5 281.5 C171.67 282.25 169.08 282.75 167 283.5 C164.92 284.25 162.83 285.42 161 286 C159.17 286.58 157.58 286.92 156 287 C154.42 287.08 152.25 286.58 151.5 286.5"/>
<path class="dv" d="M144 262 C144.67 262.42 146.67 263.42 148 264.5 C149.33 265.58 150.83 267.25 152 268.5 C153.17 269.75 153.75 270.75 155 272 C156.25 273.25 158.08 274.67 159.5 276 C160.92 277.33 162.25 278.75 163.5 280 C164.75 281.25 166.42 282.92 167 283.5"/>
<path class="dv" d="M155 272 C154.33 271.92 152.42 271.50 151 271.5 C149.58 271.50 147.25 271.92 146.5 272"/>
<path class="dv" d="M206 276 C205.50 276.58 204.00 278.25 203 279.5 C202.00 280.75 201.08 282.17 200 283.5 C198.92 284.83 197.75 286.42 196.5 287.5 C195.25 288.58 193.75 289.33 192.5 290 C191.25 290.67 189.58 291.25 189 291.5"/>
<path class="dv" d="M198 286 L197.5 292"/>
<path class="dv" d="M216.5 274 C217.25 274.25 219.25 275.33 221 275.5 C222.75 275.67 225.00 275.50 227 275 C229.00 274.50 230.83 273.42 233 272.5 C235.17 271.58 237.83 270.25 240 269.5 C242.17 268.75 244.17 268.00 246 268 C247.83 268.00 249.42 268.83 251 269.5 C252.58 270.17 254.00 271.50 255.5 272 C257.00 272.50 258.25 272.50 260 272.5 C261.75 272.50 264.00 272.25 266 272 C268.00 271.75 270.08 271.08 272 271 C273.92 270.92 275.67 271.17 277.5 271.5 C279.33 271.83 281.33 272.42 283 273 C284.67 273.58 286.75 274.67 287.5 275"/>
<path class="dv" d="M255.5 272 C255.92 272.50 257.25 273.67 258 275 C258.75 276.33 259.33 278.50 260 280 C260.67 281.50 261.50 282.50 262 284 C262.50 285.50 262.42 287.50 263 289 C263.58 290.50 264.58 291.83 265.5 293 C266.42 294.17 268.00 295.50 268.5 296"/>
<path class="dv" d="M262 284.5 C262.67 284.75 264.50 285.17 266 286 C267.50 286.83 270.17 288.92 271 289.5"/>
<path class="dv" d="M272.5 271.5 C273.00 272.17 274.33 274.00 275.5 275.5 C276.67 277.00 278.83 279.67 279.5 280.5"/>
<path class="dv" d="M215.5 276 C215.83 277.00 216.92 280.33 217.5 282 C218.08 283.67 218.25 284.83 219 286 C219.75 287.17 220.67 287.92 222 289 C223.33 290.08 226.17 291.92 227 292.5"/>
<path class="dv" d="M219 286 L218.5 294"/>
<path class="dv" d="M209.3 274 C209.33 278.33 209.47 293.67 209.5 300 C209.53 306.33 209.53 308.67 209.5 312 C209.47 315.33 209.55 317.33 209.3 320 C209.05 322.67 208.38 325.67 208 328 C207.62 330.33 207.25 332.00 207 334 C206.75 336.00 206.42 337.33 206.5 340 C206.58 342.67 207.17 347.17 207.5 350 C207.83 352.83 208.17 354.50 208.5 357 C208.83 359.50 209.27 361.17 209.5 365 C209.73 368.83 209.82 373.00 209.9 380 C209.98 387.00 209.98 402.50 210 407"/>
<path class="dv" d="M209.5 312.5 C208.92 312.67 207.25 312.83 206 313.5 C204.75 314.17 203.08 315.25 202 316.5 C200.92 317.75 200.25 319.42 199.5 321 C198.75 322.58 198.50 324.50 197.5 326 C196.50 327.50 194.92 328.83 193.5 330 C192.08 331.17 189.75 332.50 189 333"/>
<path class="dv" d="M197.5 326 C197.42 326.83 197.33 329.50 197 331 C196.67 332.50 196.17 333.83 195.5 335 C194.83 336.17 193.42 337.50 193 338"/>
<path class="dv" d="M208 328 C208.42 328.83 209.67 331.33 210.5 333 C211.33 334.67 212.17 336.33 213 338 C213.83 339.67 214.75 341.33 215.5 343 C216.25 344.67 217.08 346.42 217.5 348 C217.92 349.58 217.92 351.75 218 352.5"/>
<path class="dv" d="M217 347.5 C217.50 347.42 219.00 346.83 220 347 C221.00 347.17 222.50 348.25 223 348.5"/>
<path class="ar" d="M207.1 367.4 L209.8 371 L212.5 367.4 M209.8 371.5 L209.8 368.5"/>
<path class="blk" d="M210.4 256.3 L217.7 274.4 L202.9 274.4 Z"/>
<!-- ===== layer VI fusiform cells ===== -->
<path class="fu" d="M175.5 362.5 L176 357.5"/>
<path class="fu" d="M172 353.5 L176 357.5 L179.5 354"/>
<path class="fu" d="M176.5 356.5 L177 352.5"/>
<path class="fu" d="M175 368.5 C175.00 369.17 175.17 371.08 175 372.5 C174.83 373.92 174.17 376.25 174 377"/>
<path class="fu" d="M171 375 L175 372.5 L177.5 376.5"/>
<path class="fu" d="M177.3 366 C177.75 366.33 179.42 367.00 180 368 C180.58 369.00 180.63 365.08 180.8 372 C180.97 378.92 180.97 403.25 181 409.5"/>
<path class="ar" d="M178.7 401.5 L181 405 L183.3 401.5 M181 405.5 L181 402.5"/>
<ellipse class="blk" cx="175.3" cy="365.6" rx="2.3" ry="3.2"/>
<path class="fu" d="M186.5 362 L186.5 355"/>
<path class="fu" d="M183.5 351 L186.5 355 L190 350"/>
<path class="fu" d="M186 368.5 L185.5 375"/>
<path class="fu" d="M183.5 379 L185.5 375 L187 378.5"/>
<path class="fu" d="M188.3 366 C188.58 366.50 189.72 365.00 190 369 C190.28 373.00 190.07 383.17 190 390 C189.93 396.83 189.67 406.67 189.6 410"/>
<path class="ar" d="M187.4 402 L189.7 405.5 L192 402 M189.7 406 L189.7 403"/>
<ellipse class="blk" cx="186.3" cy="365.3" rx="2.3" ry="3.2"/>
<path class="fu" d="M200 364.5 L200.5 358"/>
<path class="fu" d="M198 353.5 L200.5 358 L203.5 353"/>
<path class="fu" d="M198.5 371 C198.25 371.75 197.58 374.08 197 375.5 C196.42 376.92 195.33 378.83 195 379.5"/>
<path class="fu" d="M196.3 377 L198 380.5"/>
<path class="fu" d="M200.2 371 L200.3 410"/>
<path class="ar" d="M197.9 400.5 L200.3 404 L202.7 400.5 M200.3 404.5 L200.3 401.5"/>
<ellipse class="blk" cx="199.8" cy="368" rx="2.3" ry="3.2"/>
<path class="fu" d="M347 364 L347 358.5"/>
<path class="fu" d="M344 354.5 L347 358.5 L351 355.5"/>
<path class="fu" d="M347.5 357.5 L348 354"/>
<path class="fu" d="M346.5 370.5 L346 375"/>
<path class="fu" d="M343 377 L346 375 L349 379"/>
<path class="fu" d="M349 368 C349.42 368.33 351.00 368.83 351.5 370 C352.00 371.17 351.75 368.17 352 375 C352.25 381.83 352.83 405.00 353 411"/>
<path class="ar" d="M350.5 403.5 L353 407 L355.5 403.5 M353 407.5 L353 404.5"/>
<ellipse class="blk" cx="346.8" cy="367.3" rx="2.3" ry="3.2"/>
<path class="fu" d="M358.5 364 C358.50 362.83 358.83 358.67 358.5 357 C358.17 355.33 356.83 354.50 356.5 354"/>
<path class="fu" d="M358 370.5 L358 376"/>
<path class="fu" d="M356 380 L358 376 L359.5 378.5"/>
<path class="fu" d="M360.3 368 C360.67 368.50 362.17 367.33 362.5 371 C362.83 374.67 362.38 383.25 362.3 390 C362.22 396.75 362.05 407.92 362 411.5"/>
<path class="ar" d="M359.2 403.5 L361.7 407 L364.2 403.5 M361.7 407.5 L361.7 404.5"/>
<ellipse class="blk" cx="358.3" cy="367.3" rx="2.3" ry="3.2"/>
<path class="fu" d="M372 366.5 L372.5 358.5"/>
<path class="fu" d="M370 354.5 L372.5 358.5 L376 354.5"/>
<path class="fu" d="M370.5 372.5 C370.33 373.25 369.67 375.33 369.5 377 C369.33 378.67 369.50 381.58 369.5 382.5"/>
<path class="fu" d="M367.5 378.5 L369.5 380"/>
<path class="fu" d="M372 373 L372 412"/>
<path class="ar" d="M369.5 403 L372 406.5 L374.5 403 M372 407 L372 404"/>
<ellipse class="blk" cx="371.6" cy="370" rx="2.3" ry="3.2"/>
</g>
</defs>

<!-- coloured layer bands -->
<rect x="50.4" y="53.8" width="496" height="39.4" fill="#f3c09f"/>
<rect x="50.4" y="128.4" width="496" height="71.2" fill="#b2d67c"/>
<rect x="59.8" y="260.5" width="485.9" height="72.7" fill="#ee9ca5"/>
<line x1="73" y1="53.6" x2="541" y2="53.6" stroke="#857a9e" stroke-width="1"/>

<!-- dashed layer borders -->
<line class="dash" x1="67.2" y1="93.95" x2="537.4" y2="93.95"/>
<line class="dash" x1="64.5" y1="131.1" x2="535" y2="131.1" style="stroke:#4c5e3a"/>
<line class="dash" x1="67.4" y1="199.9" x2="537.2" y2="199.9" style="stroke:#5f6b45"/>
<line class="dash" x1="74.8" y1="259.1" x2="546.2" y2="259.1"/>
<line class="dash" x1="69.8" y1="333.95" x2="540" y2="333.95"/>
<line class="dash" x1="78.4" y1="389.6" x2="547.7" y2="389.6"/>

<!-- neurons: base pass (cream colours) then per-band recoloured passes -->
<use href="#neurons"/>
<g clip-path="url(#cO)" class="onpeach">
<rect x="50.4" y="53.8" width="496" height="39.4" fill="#f3c09f"/>
<line x1="73" y1="53.6" x2="541" y2="53.6" stroke="#857a9e" stroke-width="1"/>
<use href="#neurons"/>
</g>
<g clip-path="url(#cG)" class="ongreen">
<rect x="50.4" y="128.4" width="496" height="71.2" fill="#b2d67c"/>
<line class="dash" x1="64.5" y1="131.1" x2="535" y2="131.1" style="stroke:#4c5e3a"/>
<line class="dash" x1="67.4" y1="199.9" x2="537.2" y2="199.9" style="stroke:#5f6b45"/>
<use href="#neurons"/>
</g>
<g clip-path="url(#cP)" class="onpink">
<rect x="59.8" y="260.5" width="485.9" height="72.7" fill="#ee9ca5"/>
<use href="#neurons"/>
</g>

<!-- labels -->
<g id="labels" style="filter:opacity(0.9999)">
<text x="133.3" y="30.8" font-size="18.6" fill="#111111" textLength="328.5" lengthAdjust="spacing">The 6 Layers of The Cerebral Neocortex</text>
<text class="t13" style="fill:#54413a" x="228.3" y="66.8" textLength="110.7" lengthAdjust="spacing">Axons &amp; dendrites</text>
<text class="t13" style="fill:#54413a" x="437.3" y="67.3" textLength="94.4" lengthAdjust="spacing">Cortical surface</text>
<text class="t13" x="265.7" y="115.8" textLength="156" lengthAdjust="spacing">Stellate cells using GABA</text>
<text class="t13" style="fill:#38442c" x="254.3" y="187.3" textLength="100.7" lengthAdjust="spacing">Association cells</text>
<text class="t13" x="396.7" y="237" textLength="75.8" lengthAdjust="spacing">Stellate cells</text>
<text class="t13" style="fill:#55303a" x="94.6" y="300.7" textLength="85" lengthAdjust="spacing">Pyramidal cell</text>
<text class="t13" style="fill:#55303a" x="94.6" y="315.6" textLength="95" lengthAdjust="spacing">using excitatory</text>
<text class="t13" style="fill:#55303a" x="94.6" y="330.2" textLength="73.3" lengthAdjust="spacing">amino acids</text>
<text class="t13" style="fill:#55303a" x="343.3" y="300.7" textLength="151.7" lengthAdjust="spacing">Thalamo-cortical afferent</text>
<text class="t13" x="380" y="370" textLength="133.3" lengthAdjust="spacing">Fusiform cells forming</text>
<text class="t13" x="380" y="385" textLength="96.7" lengthAdjust="spacing">cortical columns</text>
<text class="t13" x="201" y="422.2" textLength="38" lengthAdjust="spacing">Axons</text>
<text class="t13" x="309.9" y="419.8" textLength="37.5" lengthAdjust="spacing">Axons</text>
<text class="rn" x="73.8" y="85.8">I</text>
<text class="rn" x="73.7" y="118.4">II</text>
<text class="rn" x="73.3" y="178.8">III</text>
<text class="rn" x="76.8" y="235.3">IV</text>
<text class="rn" x="72" y="294.5">V</text>
<text class="rn" x="72.6" y="374.2">VI</text>
<text class="sm" x="25.3" y="417.8" textLength="34.2" lengthAdjust="spacing">Fig. 4-1</text>
<text class="sm" x="540.5" y="416.2" textLength="20.7" lengthAdjust="spacing">KMc</text>
</g>
</svg>
</body>
</html>
